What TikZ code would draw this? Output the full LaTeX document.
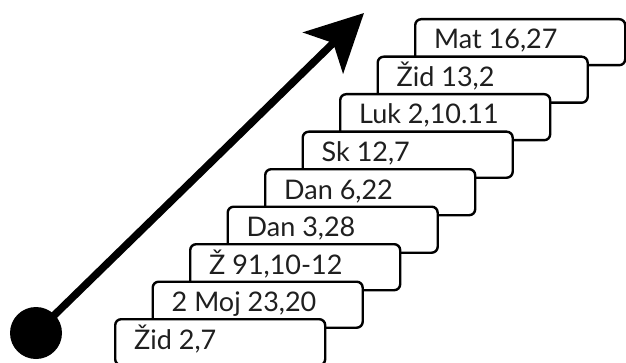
\documentclass[tikz,border=0pt]{standalone}
\usepackage{fontspec}
\setmainfont{Lato}
\usetikzlibrary{arrows.meta}
\begin{document}
\begin{tikzpicture}[x=1pt,y=1pt,
  stair/.style={draw=black, fill=white, line width=2.4pt, rounded corners=6pt,
    minimum width=210pt, minimum height=46pt, anchor=north west, inner sep=0pt},
  lbl/.style={anchor=base west, font=\fontsize{27}{27}\selectfont, text=black!88, inner sep=0pt}]
\useasboundingbox (0,0) rectangle (626,362);
\foreach \i/\t in {8/{Mat 16,27},7/{Žid 13,2},6/{Luk 2,10.11},5/{Sk 12,7},4/{Dan 6,22},3/{Dan 3,28},2/{Ž 91,10-12},1/{2 Moj 23,20},0/{Žid 2,7}}{
  \node[stair] (b\i) at ({114+37.5*\i},{44+37.5*\i}) {};
  \node[lbl] (t\i) at ([shift={(20pt,-31pt)}]b\i.north west) {\t};
}
\node[circle, fill=black, minimum size=52pt, inner sep=0pt] (start) at (36,29) {};
\coordinate (tip) at (364,349);
\draw[line width=7.5pt, -{Stealth[length=57pt,width=57pt,inset=14pt]}] (start.center) -- (tip);
\end{tikzpicture}
\end{document}
